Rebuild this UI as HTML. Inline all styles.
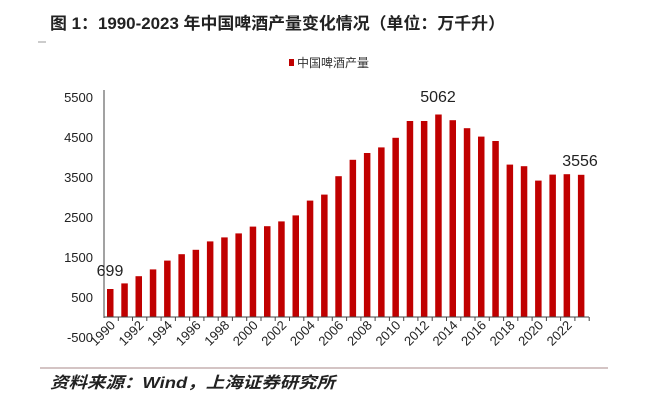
<!DOCTYPE html>
<html><head><meta charset="utf-8"><style>
body{margin:0;background:#fff;}
svg text{font-family:"Liberation Sans","Noto Sans CJK SC",sans-serif;}
</style></head><body>
<svg width="652" height="408" viewBox="0 0 652 408" xmlns="http://www.w3.org/2000/svg">
<rect width="652" height="408" fill="#fff"/>
<line x1="38" y1="42" x2="46" y2="42" stroke="#999" stroke-width="1"/>
<text x="50" y="29" font-size="16.5" font-weight="bold" fill="#222" textLength="455" lengthAdjust="spacingAndGlyphs">图 1：1990-2023 年中国啤酒产量变化情况（单位：万千升）</text>
<rect x="289" y="59" width="5" height="7" fill="#c00000"/>
<text x="297" y="67" font-size="12" fill="#333">中国啤酒产量</text>
<g font-size="13" fill="#222" text-anchor="end">
<text x="93" y="102">5500</text><text x="93" y="142">4500</text><text x="93" y="182">3500</text>
<text x="93" y="222">2500</text><text x="93" y="262">1500</text><text x="93" y="302">500</text><text x="93" y="342">-500</text>
</g>
<g fill="#c00000">
<rect x="107" y="289" width="6.5" height="28"/>
<rect x="121.3" y="283.4" width="6.5" height="33.6"/>
<rect x="135.5" y="276.2" width="6.5" height="40.8"/>
<rect x="149.8" y="269.4" width="6.5" height="47.6"/>
<rect x="164.1" y="260.6" width="6.5" height="56.4"/>
<rect x="178.4" y="254.2" width="6.5" height="62.8"/>
<rect x="192.6" y="249.8" width="6.5" height="67.2"/>
<rect x="206.9" y="241.4" width="6.5" height="75.6"/>
<rect x="221.2" y="237.4" width="6.5" height="79.6"/>
<rect x="235.4" y="233.4" width="6.5" height="83.6"/>
<rect x="249.7" y="226.6" width="6.5" height="90.4"/>
<rect x="264" y="226.2" width="6.5" height="90.8"/>
<rect x="278.2" y="221.4" width="6.5" height="95.6"/>
<rect x="292.5" y="215.4" width="6.5" height="101.6"/>
<rect x="306.8" y="200.6" width="6.5" height="116.4"/>
<rect x="321.1" y="194.6" width="6.5" height="122.4"/>
<rect x="335.3" y="176.2" width="6.5" height="140.8"/>
<rect x="349.6" y="159.8" width="6.5" height="157.2"/>
<rect x="363.9" y="153" width="6.5" height="164"/>
<rect x="378.1" y="147.4" width="6.5" height="169.6"/>
<rect x="392.4" y="137.8" width="6.5" height="179.2"/>
<rect x="406.7" y="121" width="6.5" height="196"/>
<rect x="420.9" y="121" width="6.5" height="196"/>
<rect x="435.2" y="114.5" width="6.5" height="202.5"/>
<rect x="449.5" y="120.2" width="6.5" height="196.8"/>
<rect x="463.8" y="128.2" width="6.5" height="188.8"/>
<rect x="478" y="136.6" width="6.5" height="180.4"/>
<rect x="492.3" y="141" width="6.5" height="176"/>
<rect x="506.6" y="164.6" width="6.5" height="152.4"/>
<rect x="520.8" y="166.2" width="6.5" height="150.8"/>
<rect x="535.1" y="180.6" width="6.5" height="136.4"/>
<rect x="549.4" y="174.6" width="6.5" height="142.4"/>
<rect x="563.6" y="174.2" width="6.5" height="142.8"/>
<rect x="577.9" y="174.8" width="6.5" height="142.2"/>
</g>
<line x1="104" y1="90" x2="104" y2="318" stroke="#444"/>
<line x1="104" y1="317" x2="589" y2="317" stroke="#444"/>
<path stroke="#444" fill="none" d="M118.3 317v4M132.5 317v4M146.8 317v4M161.1 317v4M175.4 317v4M189.6 317v4M203.9 317v4M218.2 317v4M232.4 317v4M246.7 317v4M261 317v4M275.2 317v4M289.5 317v4M303.8 317v4M318.1 317v4M332.3 317v4M346.6 317v4M360.9 317v4M375.1 317v4M389.4 317v4M403.7 317v4M417.9 317v4M432.2 317v4M446.5 317v4M460.8 317v4M475 317v4M489.3 317v4M503.6 317v4M517.8 317v4M532.1 317v4M546.4 317v4M560.6 317v4M574.9 317v4M589.2 317v4"/>
<g font-size="13" fill="#222" text-anchor="end">
<text x="116" y="326" transform="rotate(-45 116 326)">1990</text>
<text x="144.5" y="326" transform="rotate(-45 144.5 326)">1992</text>
<text x="173.1" y="326" transform="rotate(-45 173.1 326)">1994</text>
<text x="201.6" y="326" transform="rotate(-45 201.6 326)">1996</text>
<text x="230.2" y="326" transform="rotate(-45 230.2 326)">1998</text>
<text x="258.7" y="326" transform="rotate(-45 258.7 326)">2000</text>
<text x="287.2" y="326" transform="rotate(-45 287.2 326)">2002</text>
<text x="315.8" y="326" transform="rotate(-45 315.8 326)">2004</text>
<text x="344.3" y="326" transform="rotate(-45 344.3 326)">2006</text>
<text x="372.9" y="326" transform="rotate(-45 372.9 326)">2008</text>
<text x="401.4" y="326" transform="rotate(-45 401.4 326)">2010</text>
<text x="429.9" y="326" transform="rotate(-45 429.9 326)">2012</text>
<text x="458.5" y="326" transform="rotate(-45 458.5 326)">2014</text>
<text x="487" y="326" transform="rotate(-45 487 326)">2016</text>
<text x="515.6" y="326" transform="rotate(-45 515.6 326)">2018</text>
<text x="544.1" y="326" transform="rotate(-45 544.1 326)">2020</text>
<text x="572.6" y="326" transform="rotate(-45 572.6 326)">2022</text>
</g>
<text x="110" y="276" font-size="16" fill="#222" text-anchor="middle">699</text>
<text x="438" y="102" font-size="16" fill="#222" text-anchor="middle">5062</text>
<text x="580" y="166" font-size="16" fill="#222" text-anchor="middle">3556</text>
<line x1="40" y1="368" x2="608" y2="368" stroke="#a88" stroke-width="1"/>
<text x="50" y="388" font-size="16" font-weight="bold" font-style="italic" fill="#222" textLength="285" lengthAdjust="spacingAndGlyphs">资料来源：Wind，上海证券研究所</text>
</svg>
</body></html>
